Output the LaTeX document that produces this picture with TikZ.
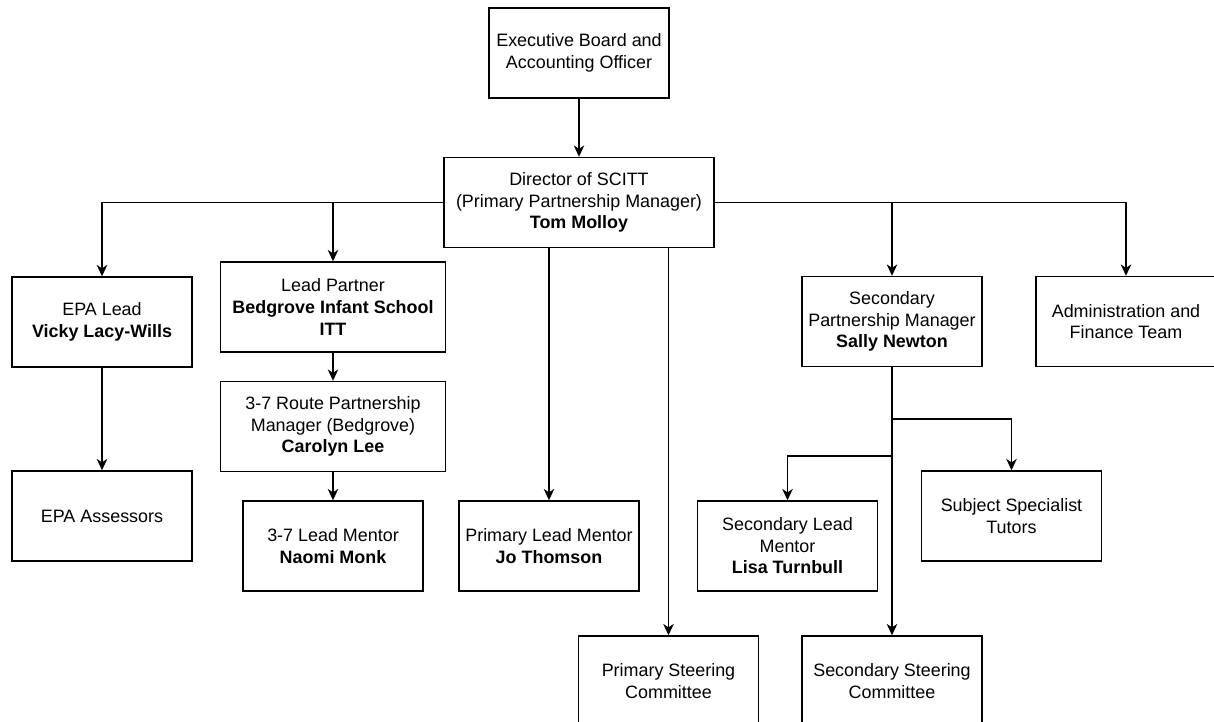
\documentclass[tikz,border=0pt]{standalone}
\usepackage{fontspec}
\setmainfont{Liberation Sans}
\usetikzlibrary{arrows.meta}

\begin{document}
\begin{tikzpicture}[
  x=0.02cm, y=-0.02cm,
  box/.style={draw, line width=0.8pt, minimum width=3.6cm, minimum height=1.8cm,
    align=center, inner sep=0pt, font=\fontsize{10.2}{12.25}\selectfont},
  wide/.style={box, minimum width=4.5cm},
  link/.style={line width=0.8pt, -{Stealth[length=6.5pt, width=6pt, inset=2pt]}}]
  \useasboundingbox (0,0) rectangle (1214,722);
  \node[box] (exec) at (579,53) {Executive Board and\\Accounting Officer};
  \node[box, minimum width=5.4cm] (dir) at (579,202.5) {Director of SCITT\\(Primary Partnership Manager)\\\textbf{Tom Molloy}};
  \node[box] (epa) at (102,322) {EPA Lead\\\textbf{Vicky Lacy-Wills}};
  \node[box] (epaass) at (102,516) {EPA Assessors};
  \node[wide] (lead) at (333,307) {Lead Partner\\\textbf{Bedgrove Infant School}\\\textbf{ITT}};
  \node[wide] (route) at (333,426.5) {3-7 Route Partnership\\Manager (Bedgrove)\\\textbf{Carolyn Lee}};
  \node[box] (mentor37) at (333,546) {3-7 Lead Mentor\\\textbf{Naomi Monk}};
  \node[box] (primentor) at (549,546) {Primary Lead Mentor\\\textbf{Jo Thomson}};
  \node[box] (pristeer) at (668.5,681) {Primary Steering\\Committee};
  \node[box] (secpm) at (892,321.5) {Secondary\\Partnership Manager\\\textbf{Sally Newton}};
  \node[box] (admin) at (1126,321.5) {Administration and\\Finance Team};
  \node[box] (secmentor) at (787.5,546) {Secondary Lead\\Mentor\\\textbf{Lisa Turnbull}};
  \node[box] (tutors) at (1011.5,516) {Subject Specialist\\Tutors};
  \node[box] (secsteer) at (892,681) {Secondary Steering\\Committee};
  % connectors
  \draw[link] (exec) -- (dir);
  \draw[link] (dir.west) -| (epa.north);
  \draw[link] (dir.west) -| (lead.north);
  \draw[link] (dir.east) -| (secpm.north);
  \draw[link] (dir.east) -| (admin.north);
  \draw[link] (dir.south -| primentor) -- (primentor);
  \draw[link] (dir.south -| pristeer) -- (pristeer);
  \draw[link] (epa) -- (epaass);
  \draw[link] (lead) -- (route);
  \draw[link] (route) -- (mentor37);
  \draw[link] (secpm) -- (secsteer);
  \coordinate (tbranch) at (892,419);
  \coordinate (mbranch) at (892,456);
  \draw[link] (tbranch) -| (tutors.north);
  \draw[link] (mbranch) -| (secmentor.north);
\end{tikzpicture}
\end{document}
